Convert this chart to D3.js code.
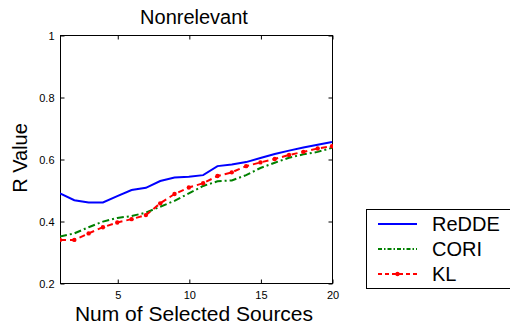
<!DOCTYPE html>
<html>
<head>
<meta charset="utf-8">
<script src="https://cdn.jsdelivr.net/npm/d3@7"></script>
<style>
  body { margin: 0; background: #fff; }
  text { font-family: "Liberation Sans", Arial, sans-serif; }
</style>
</head>
<body>
<div id="chart"></div>
<script>
var sources = [1, 2, 3, 4, 5, 6, 7, 8, 9, 10, 11, 12, 13, 14, 15, 16, 17, 18, 19, 20];
var redde = [0.489, 0.467, 0.460, 0.460, 0.480, 0.500, 0.507, 0.529, 0.540, 0.543, 0.548, 0.577, 0.582, 0.590, 0.603, 0.616, 0.627, 0.637, 0.646, 0.655];
var cori = [0.350, 0.360, 0.380, 0.398, 0.410, 0.416, 0.427, 0.446, 0.465, 0.489, 0.513, 0.528, 0.531, 0.548, 0.571, 0.588, 0.604, 0.615, 0.623, 0.636];
var kl = [0.339, 0.339, 0.360, 0.380, 0.395, 0.406, 0.419, 0.457, 0.487, 0.508, 0.522, 0.545, 0.557, 0.577, 0.589, 0.600, 0.613, 0.623, 0.634, 0.641];
var xTicks = [5, 10, 15, 20];
var yTicks = [0.2, 0.4, 0.6, 0.8, 1];
var seriesNames = ['ReDDE', 'CORI', 'KL'];

var width = 510, height = 326;
// window.top is read-only, so the plot box gets its own names
var plotL = 60, plotR = 332, plotT = 35, plotB = 283;

var svg = d3.select('#chart').append('svg')
  .attr('width', width)
  .attr('height', height);

var x = d3.scaleLinear().domain([1, 20]).range([plotL, plotR]);
var y = d3.scaleLinear().domain([0.2, 1]).range([plotB, plotT]);

// frame
svg.append('rect')
  .attr('x', plotL + 0.5).attr('y', plotT + 0.5)
  .attr('width', plotR - plotL).attr('height', plotB - plotT)
  .attr('fill', 'none').attr('stroke', '#000').attr('stroke-width', 1);

// ticks point inwards on every side, like matlab
var axisB = svg.append('g').attr('transform', 'translate(0.5,' + (plotB + 0.5) + ')')
  .call(d3.axisBottom(x).tickValues(xTicks).tickSizeInner(-4).tickSizeOuter(0).tickPadding(8));
var axisT = svg.append('g').attr('transform', 'translate(0.5,' + (plotT + 0.5) + ')')
  .call(d3.axisTop(x).tickValues(xTicks).tickSizeInner(-4).tickSizeOuter(0).tickFormat(''));
var axisL = svg.append('g').attr('transform', 'translate(' + (plotL + 0.5) + ',0.5)')
  .call(d3.axisLeft(y).tickValues(yTicks).tickSizeInner(-4).tickSizeOuter(0).tickPadding(6).tickFormat(d3.format('~g')));
var axisR = svg.append('g').attr('transform', 'translate(' + (plotR + 0.5) + ',0.5)')
  .call(d3.axisRight(y).tickValues(yTicks).tickSizeInner(-4).tickSizeOuter(0).tickFormat(''));

[axisB, axisT, axisL, axisR].forEach(function (a) {
  a.select('.domain').remove();
  a.selectAll('text')
    .style('font-family', '"Liberation Sans", Arial, sans-serif')
    .style('font-size', '11px')
    .attr('fill', '#000');
});

var line = d3.line()
  .x(function (d, i) { return x(sources[i]); })
  .y(function (d) { return y(d); });

svg.append('clipPath').attr('id', 'plotClip')
  .append('rect').attr('x', plotL).attr('y', plotT)
  .attr('width', plotR - plotL + 1).attr('height', plotB - plotT);

var plot = svg.append('g').attr('clip-path', 'url(#plotClip)');

plot.append('path').datum(cori)
  .attr('d', line).attr('fill', 'none')
  .attr('stroke', '#008000').attr('stroke-width', 2)
  .attr('stroke-dasharray', '7,3,2,3');

plot.append('path').datum(kl)
  .attr('d', line).attr('fill', 'none')
  .attr('stroke', '#ff0000').attr('stroke-width', 2)
  .attr('stroke-dasharray', '6,4');

plot.selectAll('.klDot').data(kl).enter().append('circle')
  .attr('class', 'klDot')
  .attr('cx', function (d, i) { return x(sources[i]); })
  .attr('cy', function (d) { return y(d); })
  .attr('r', 2.2)
  .attr('fill', '#ff0000');

plot.append('path').datum(redde)
  .attr('d', line).attr('fill', 'none')
  .attr('stroke', '#0000ff').attr('stroke-width', 2);

// title and labels
svg.append('text')
  .attr('x', 194).attr('y', 24)
  .attr('text-anchor', 'middle')
  .style('font-size', '20px')
  .text('Nonrelevant');

svg.append('text')
  .attr('x', 194).attr('y', 321)
  .attr('text-anchor', 'middle')
  .style('font-size', '21px')
  .text('Num of Selected Sources');

svg.append('text')
  .attr('transform', 'translate(27,158) rotate(-90)')
  .attr('text-anchor', 'middle')
  .style('font-size', '20px')
  .text('R Value');

// legend, right border sits just past the page edge as in the source
var legend = svg.append('g');
legend.append('rect')
  .attr('x', 366.5).attr('y', 209.5)
  .attr('width', 146).attr('height', 79)
  .attr('fill', '#fff').attr('stroke', '#000').attr('stroke-width', 1);

var legendRows = [
  { name: seriesNames[0], color: '#0000ff', dash: null, dot: false },
  { name: seriesNames[1], color: '#008000', dash: '4,2,1.5,2', dot: false },
  { name: seriesNames[2], color: '#ff0000', dash: '4,3', dot: true }
];
var rowY = [224, 249, 274];

legendRows.forEach(function (r, i) {
  legend.append('line')
    .attr('x1', 378).attr('x2', 417)
    .attr('y1', rowY[i]).attr('y2', rowY[i])
    .attr('stroke', r.color).attr('stroke-width', 2)
    .attr('stroke-dasharray', r.dash);
  if (r.dot) {
    legend.append('circle')
      .attr('cx', 397.5).attr('cy', rowY[i]).attr('r', 2.2)
      .attr('fill', r.color);
  }
  legend.append('text')
    .attr('x', 432).attr('y', rowY[i] + 7)
    .style('font-size', '20px')
    .text(r.name);
});
</script>
</body>
</html>
